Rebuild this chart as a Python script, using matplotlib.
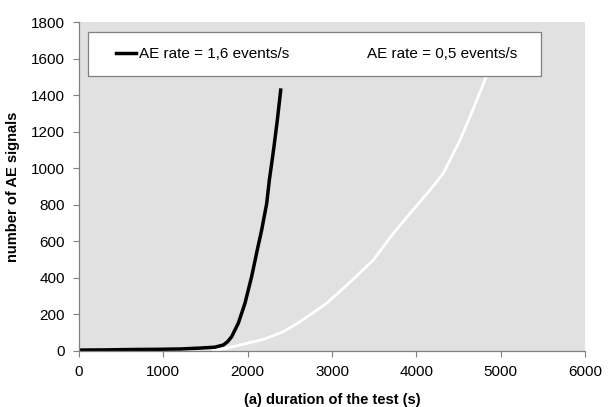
import matplotlib.pyplot as plt
from matplotlib.patches import Rectangle

plt.rcParams['font.family'] = ['Liberation Sans', 'DejaVu Sans']

# AE rate = 1,6 events/s
t_fast = [0, 300, 600, 900, 1200, 1435, 1613, 1712, 1760, 1810, 1889, 1968, 2047, 2114, 2166,
          2226, 2257, 2285, 2312, 2352, 2392]
n_fast = [5, 6, 8, 9, 11, 16, 21, 33, 50, 78, 152, 261, 407, 553, 662,
          808, 935, 1027, 1118, 1264, 1428]

# AE rate = 0,5 events/s
t_slow = [1593, 1791, 1988, 2200, 2423, 2621, 2937, 3200, 3490, 3728, 3925, 4162, 4320, 4518, 4637, 4854]
n_slow = [0, 20, 42, 65, 106, 160, 261, 370, 498, 644, 753, 881, 972, 1154, 1282, 1528]

fig = plt.figure(figsize=(6.08, 4.07), dpi=100)
ax = fig.add_axes([0.130, 0.1376, 0.832, 0.808])
ax.set_facecolor('#e1e1e1')

ax.plot(t_fast, n_fast, color='black', lw=2.5, label='AE rate = 1,6 events/s')
ax.plot(t_slow, n_slow, color='white', lw=2.0, label='AE rate = 0,5 events/s')

ax.set_xlim(0, 6000)
ax.set_ylim(0, 1800)
ax.set_xticks(range(0, 6001, 1000))
ax.set_yticks(range(0, 1801, 200))
for s in ['top', 'right']:
    ax.spines[s].set_visible(False)
for s in ['left', 'bottom']:
    ax.spines[s].set_color('#808080')
    ax.spines[s].set_linewidth(0.9)
ax.tick_params(direction='out', length=4, color='#808080', labelsize=11, pad=6)

ax.set_xlabel('(a) duration of the test (s)', fontsize=10.5, fontweight='bold', labelpad=10)
ax.set_ylabel('number of AE signals', fontsize=10.5, fontweight='bold', labelpad=8)

# legend box drawn separately so the entries can sit where they do in the original
box = Rectangle((0.018, 0.836), 0.895, 0.134, transform=ax.transAxes, facecolor='white',
                edgecolor='#808080', lw=0.9, zorder=3, clip_on=False)
ax.add_patch(box)
leg = ax.legend(loc='center left', bbox_to_anchor=(0.0731, 0.903), ncol=2, frameon=False,
                fontsize=11, handlelength=1.3, handletextpad=0.2, columnspacing=3.6,
                borderpad=0, borderaxespad=0)
leg.set_zorder(4)

fig.savefig('out.png', dpi=100)
